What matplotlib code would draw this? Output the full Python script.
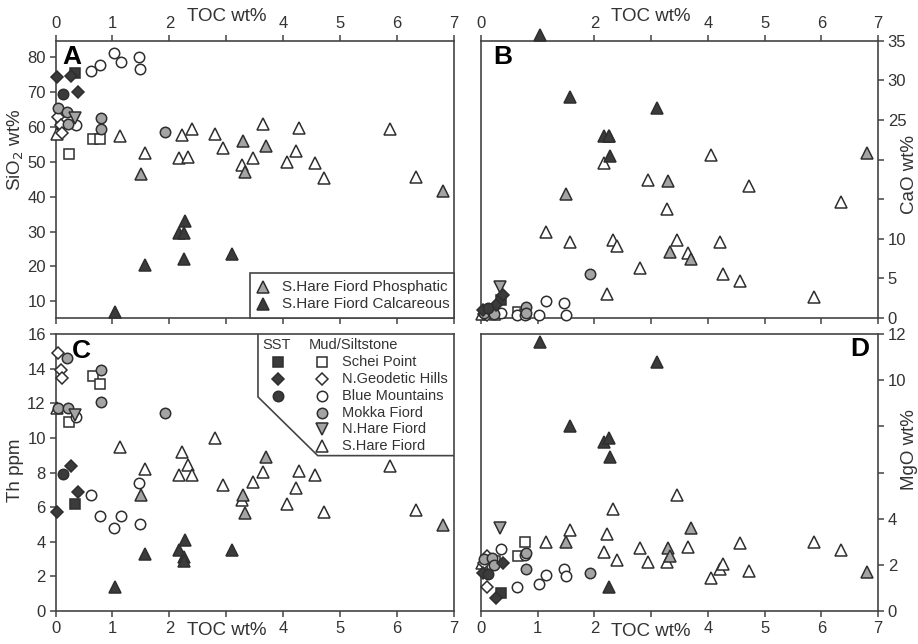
import matplotlib.pyplot as plt
from matplotlib.lines import Line2D
from matplotlib.patches import Rectangle

plt.rcParams['font.family'] = ['Liberation Sans', 'DejaVu Sans']

DARK = '#3b3b3b'
GREY = '#a4a4a4'
EDGE = '#2e2e2e'
TXT = '#333333'

# ---- sandstones (SST) ----
sst_schei_toc = [0.35]
sst_schei_sio2 = [75.4]
sst_schei_cao = [2.3]
sst_schei_th = [6.2]
sst_schei_mgo = [0.8]

sst_geod_toc = [0.03, 0.27, 0.39]
sst_geod_sio2 = [74.3, 74.7, 70.0]
sst_geod_cao = [1.0, 1.6, 2.9]
sst_geod_th = [5.7, 8.4, 6.9]
sst_geod_mgo = [1.65, 0.57, 2.1]

sst_blue_toc = [0.13]
sst_blue_sio2 = [69.4]
sst_blue_cao = [1.2]
sst_blue_th = [7.9]
sst_blue_mgo = [1.6]

# ---- mudstones / siltstones ----
mud_schei_toc = [0.24, 0.66, 0.78]
mud_schei_sio2 = [52.1, 56.6, 56.6]
mud_schei_cao = [0.4, 0.8, 0.5]
mud_schei_th = [10.9, 13.6, 13.1]
mud_schei_mgo = [2.2, 2.4, 3.0]

mud_geod_toc = [0.05, 0.1, 0.11]
mud_geod_sio2 = [62.9, 60.4, 58.3]
mud_geod_cao = [0.5, 0.6, 0.4]
mud_geod_th = [14.9, 13.95, 13.45]
mud_geod_mgo = [2.1, 1.07, 2.4]

mud_blue_toc = [0.36, 0.63, 0.78, 1.03, 1.15, 1.47, 1.49]
mud_blue_sio2 = [60.4, 76.1, 77.7, 81.3, 78.7, 80.0, 76.7]
mud_blue_cao = [0.6, 0.4, 0.4, 0.4, 2.1, 1.9, 0.4]
mud_blue_th = [11.2, 6.7, 5.5, 4.8, 5.5, 7.4, 5.0]
mud_blue_mgo = [2.7, 1.07, 2.45, 1.2, 1.58, 1.82, 1.53]

mokka_toc = [0.05, 0.2, 0.22, 0.8, 0.8, 1.92]
mokka_sio2 = [65.4, 64.2, 60.7, 62.6, 59.5, 58.5]
mokka_cao = [0.6, 0.9, 0.5, 1.4, 0.6, 5.5]
mokka_th = [11.7, 14.6, 11.7, 13.95, 12.1, 11.45]
mokka_mgo = [2.26, 2.3, 2.0, 2.52, 1.84, 1.68]

nhare_toc = [0.34]
nhare_sio2 = [62.6]
nhare_cao = [3.95]
nhare_th = [11.3]
nhare_mgo = [3.6]

share_toc = [0.02, 1.14, 1.57, 2.17, 2.22, 2.32, 2.4, 2.8, 2.94, 3.28, 3.46,
             3.65, 4.06, 4.22, 4.27, 4.56, 4.72, 5.87, 6.34]
share_sio2 = [58.0, 57.5, 52.6, 51.0, 57.8, 51.4, 59.4, 58.0, 54.0, 49.2, 51.2,
              60.7, 49.9, 53.0, 59.7, 49.7, 45.4, 59.4, 45.6]
share_cao = [0.5, 10.8, 9.6, 19.6, 3.0, 9.8, 9.1, 6.3, 17.4, 13.8, 9.8,
             8.2, 20.6, 9.6, 5.6, 4.7, 16.6, 2.6, 14.6]
share_th = [11.7, 9.48, 8.23, 7.85, 9.19, 8.42, 7.85, 10.0, 7.27, 6.4, 7.46,
            8.04, 6.17, 7.08, 8.1, 7.85, 5.73, 8.37, 5.83]
share_mgo = [2.1, 2.99, 3.52, 2.56, 3.35, 4.42, 2.23, 2.73, 2.13, 2.15, 5.04,
             2.8, 1.46, 1.82, 2.05, 2.95, 1.75, 3.02, 2.66]

phos_toc = [1.5, 3.3, 3.33, 3.7, 6.8]
phos_sio2 = [46.4, 55.9, 47.0, 54.5, 41.6]
phos_cao = [15.6, 17.3, 8.3, 7.5, 20.8]
phos_th = [6.69, 6.69, 5.64, 8.9, 4.96]
phos_mgo = [2.99, 2.73, 2.4, 3.6, 1.72]

calc_toc = [1.04, 1.57, 2.17, 2.26, 2.27, 2.25, 3.1]
calc_sio2 = [7.0, 20.5, 29.5, 29.5, 33.0, 22.0, 23.5]
calc_cao = [35.7, 27.9, 23.0, 23.0, 20.4, 23.0, 26.5]
calc_th = [1.4, 3.3, 3.5, 3.1, 4.1, 2.9, 3.5]
calc_mgo = [11.66, 8.0, 7.35, 7.5, 6.7, 1.05, 10.8]

# toc, (sio2, cao, th, mgo), marker, face colour, size
groups = [
    (share_toc, (share_sio2, share_cao, share_th, share_mgo), '^', 'white', 9),
    (phos_toc, (phos_sio2, phos_cao, phos_th, phos_mgo), '^', GREY, 9),
    (mud_schei_toc, (mud_schei_sio2, mud_schei_cao, mud_schei_th, mud_schei_mgo), 's', 'white', 6.5),
    (mud_geod_toc, (mud_geod_sio2, mud_geod_cao, mud_geod_th, mud_geod_mgo), 'D', 'white', 6),
    (mud_blue_toc, (mud_blue_sio2, mud_blue_cao, mud_blue_th, mud_blue_mgo), 'o', 'white', 7.5),
    (mokka_toc, (mokka_sio2, mokka_cao, mokka_th, mokka_mgo), 'o', GREY, 7.5),
    (nhare_toc, (nhare_sio2, nhare_cao, nhare_th, nhare_mgo), 'v', GREY, 9),
    (sst_schei_toc, (sst_schei_sio2, sst_schei_cao, sst_schei_th, sst_schei_mgo), 's', DARK, 6.5),
    (sst_geod_toc, (sst_geod_sio2, sst_geod_cao, sst_geod_th, sst_geod_mgo), 'D', DARK, 6),
    (sst_blue_toc, (sst_blue_sio2, sst_blue_cao, sst_blue_th, sst_blue_mgo), 'o', DARK, 7.5),
    (calc_toc, (calc_sio2, calc_cao, calc_th, calc_mgo), '^', DARK, 9),
]

fig = plt.figure(figsize=(9.18, 6.44), dpi=100)
axA = fig.add_axes([0.0605, 0.5062, 0.4341, 0.4306])
axB = fig.add_axes([0.5240, 0.5062, 0.4325, 0.4306])
axC = fig.add_axes([0.0605, 0.0512, 0.4341, 0.4301])
axD = fig.add_axes([0.5240, 0.0505, 0.4325, 0.4309])

for k, ax in enumerate([axA, axB, axC, axD]):
    for toc, vals, mk, fc, ms in groups:
        ax.plot(toc, vals[k], ls='none', marker=mk, mfc=fc, mec=EDGE, mew=1.1,
                ms=ms, clip_on=False, zorder=3)
    ax.set_xlim(0, 7)
    for sp in ax.spines.values():
        sp.set_color('#444444')
        sp.set_linewidth(1.2)
    ax.tick_params(direction='out', length=4, width=1.1, color='#444444',
                   labelcolor=TXT, labelsize=12, pad=3)
    ax.set_xticks(range(8))

xlabels = ['0', '1', '2', '', '4', '5', '6', '7']

# A: SiO2
axA.set_ylim(5.2, 84.7)
axA.set_yticks(range(10, 81, 10))
axA.set_xticklabels(xlabels)
axA.tick_params(axis='x', top=True, labeltop=True, bottom=True, labelbottom=False)
axA.tick_params(axis='y', left=True, right=False)

# B: CaO
axB.set_ylim(0, 35)
axB.set_yticks(range(0, 36, 5))
axB.set_yticklabels(['0', '5', '10', '', '', '25', '30', '35'])
axB.set_xticklabels(['0', '', '2', '', '4', '5', '6', '7'])
axB.tick_params(axis='x', top=True, labeltop=True, bottom=True, labelbottom=False)
axB.tick_params(axis='y', left=False, labelleft=False, right=True, labelright=True)

# C: Th
axC.set_ylim(0, 16)
axC.set_yticks(range(0, 17, 2))
axC.set_xticklabels(xlabels)
axC.tick_params(axis='x', top=False, bottom=True)

# D: MgO
axD.set_ylim(0, 12)
axD.set_yticks(range(0, 13, 2))
axD.set_yticklabels(['0', '2', '4', '', '', '10', '12'])
axD.set_xticklabels(xlabels)
axD.tick_params(axis='x', top=False, bottom=True)
axD.tick_params(axis='y', left=False, labelleft=False, right=True, labelright=True)

# axis titles
lab = dict(fontsize=13.5, color=TXT, ha='center', va='center')
axA.text(3, 1.0855, 'TOC wt%', transform=axA.get_xaxis_transform(), **lab)
axB.text(3, 1.0855, 'TOC wt%', transform=axB.get_xaxis_transform(), **lab)
axC.text(3, -0.072, 'TOC wt%', transform=axC.get_xaxis_transform(), **lab)
axD.text(3, -0.072, 'TOC wt%', transform=axD.get_xaxis_transform(), **lab)
axA.text(-0.1, 0.606, 'SiO$_2$ wt%', transform=axA.transAxes, rotation=90, **lab)
axC.text(-0.1, 0.509, 'Th ppm', transform=axC.transAxes, rotation=90, **lab)
axB.text(1.08, 0.516, 'CaO wt%', transform=axB.transAxes, rotation=90, **lab)
axD.text(1.08, 0.582, 'MgO wt%', transform=axD.transAxes, rotation=90, **lab)

# panel letters
let = dict(fontsize=19, fontweight='bold', color='black', ha='center', va='center')
axA.text(0.042, 0.94, 'A', transform=axA.transAxes, **let)
axB.text(0.055, 0.94, 'B', transform=axB.transAxes, **let)
axC.text(0.064, 0.94, 'C', transform=axC.transAxes, **let)
axD.text(0.955, 0.945, 'D', transform=axD.transAxes, **let)

# legend in A (S.Hare sub-types)
axA.add_patch(Rectangle((0.487, 0.0), 0.513, 0.163, transform=axA.transAxes,
                        fc='white', ec='#444444', lw=1.2, zorder=4, clip_on=False))
for yy, fc, txt in [(0.113, GREY, 'S.Hare Fiord Phosphatic'),
                    (0.05, DARK, 'S.Hare Fiord Calcareous')]:
    axA.add_line(Line2D([0.52], [yy], transform=axA.transAxes, ls='none', marker='^',
                        mfc=fc, mec=EDGE, mew=1.1, ms=8.5, zorder=5))
    axA.text(0.568, yy, txt, transform=axA.transAxes, fontsize=11, color=TXT,
             va='center', ha='left', zorder=5)

# legend in C (locality key) with chamfered border
axC.add_line(Line2D([0.508, 0.508, 0.658, 1.0], [1.0, 0.773, 0.561, 0.561],
                    transform=axC.transAxes, color='#444444', lw=1.2, zorder=4))
axC.text(0.554, 0.96, 'SST', transform=axC.transAxes, fontsize=10.5, color=TXT,
         ha='center', va='center')
axC.text(0.635, 0.96, 'Mud/Siltstone', transform=axC.transAxes, fontsize=10.5,
         color=TXT, ha='left', va='center')
rows_y = [0.90, 0.8375, 0.776, 0.716, 0.657, 0.596]
sst_keys = [('s', 6.5), ('D', 6), ('o', 7.5)]
mud_keys = [('s', 'white', 6.5, 'Schei Point'), ('D', 'white', 6, 'N.Geodetic Hills'),
            ('o', 'white', 7.5, 'Blue Mountains'), ('o', GREY, 7.5, 'Mokka Fiord'),
            ('v', GREY, 8.5, 'N.Hare Fiord'), ('^', 'white', 8.5, 'S.Hare Fiord')]
for yy, (mk, ms) in zip(rows_y, sst_keys):
    axC.add_line(Line2D([0.559], [yy], transform=axC.transAxes, ls='none', marker=mk,
                        mfc=DARK, mec=EDGE, mew=1.1, ms=ms, zorder=5))
for yy, (mk, fc, ms, txt) in zip(rows_y, mud_keys):
    axC.add_line(Line2D([0.668], [yy], transform=axC.transAxes, ls='none', marker=mk,
                        mfc=fc, mec=EDGE, mew=1.1, ms=ms, zorder=5))
    axC.text(0.72, yy, txt, transform=axC.transAxes, fontsize=10.5, color=TXT,
             ha='left', va='center')

fig.savefig('out.png', dpi=100)
